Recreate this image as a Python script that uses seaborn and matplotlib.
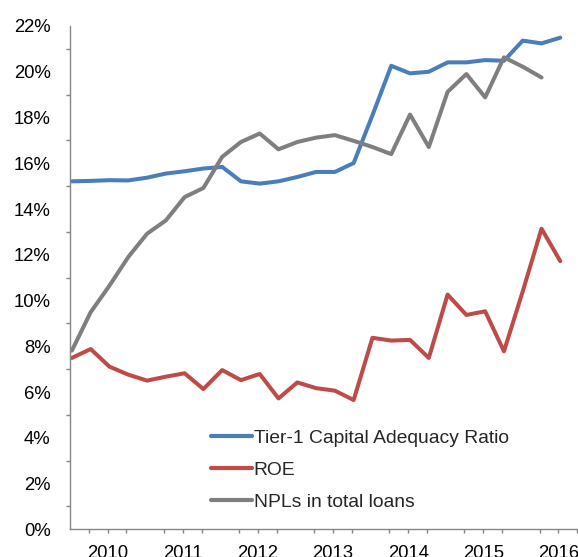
import numpy as np
import pandas as pd
import seaborn as sns
import matplotlib.pyplot as plt
from matplotlib.ticker import MultipleLocator, FixedLocator, FuncFormatter

# quarterly data, 2010Q1 onwards (values in %)
tier1 = [15.21, 15.23, 15.26, 15.25, 15.37, 15.55, 15.65, 15.77, 15.84,
         15.21, 15.11, 15.21, 15.40, 15.62, 15.62, 16.01, 18.10, 20.26,
         19.93, 20.00, 20.41, 20.41, 20.51, 20.48, 21.36, 21.24, 21.49]
roe = [7.49, 7.88, 7.11, 6.76, 6.50, 6.67, 6.82, 6.13, 6.96, 6.52, 6.79,
       5.72, 6.42, 6.17, 6.06, 5.65, 8.37, 8.25, 8.28, 7.49, 10.26, 9.37,
       9.53, 7.78, 10.40, 13.14, 11.72]
npl = [7.81, 9.49, 10.65, 11.90, 12.92, 13.50, 14.52, 14.92, 16.28, 16.93,
       17.30, 16.61, 16.93, 17.12, 17.23, 16.98, 16.71, 16.40, 18.13, 16.71,
       19.12, 19.90, 18.88, 20.63, 20.22, 19.75]
years = [2010, 2011, 2012, 2013, 2014, 2015, 2016]
names = ['Tier-1 Capital Adequacy Ratio', 'ROE', 'NPLs in total loans']
colors = ['#4A7EBB', '#BE4B48', '#7F7F7F']

df = pd.concat([
    pd.DataFrame({'q': np.arange(len(tier1)), 'value': tier1, 'series': names[0]}),
    pd.DataFrame({'q': np.arange(len(roe)), 'value': roe, 'series': names[1]}),
    pd.DataFrame({'q': np.arange(len(npl)), 'value': npl, 'series': names[2]}),
])

sns.set_style('white')
plt.rcParams['font.family'] = ['Liberation Sans', 'DejaVu Sans']

W, H = 578, 557
fig = plt.figure(figsize=(W / 100, H / 100), dpi=100)
ax = fig.add_axes([70 / W, 1 - 529.3 / H, (596 - 70) / W, (529.3 - 26) / H])

sns.lineplot(data=df, x='q', y='value', hue='series', hue_order=names,
             palette=colors, linewidth=2.9, ax=ax)

ax.set_ylim(0, 22)
ax.set_xlim(-0.1, 27.9)
ax.yaxis.set_major_locator(MultipleLocator(2))
ax.yaxis.set_minor_locator(MultipleLocator(1))
ax.yaxis.set_major_formatter(FuncFormatter(lambda v, p: f'{v:.0f}%'))

ax.xaxis.set_major_locator(FixedLocator([i - 0.1 for i in range(0, 29, 4)]))
ax.xaxis.set_major_formatter(FuncFormatter(lambda v, p: ''))
ax.xaxis.set_minor_locator(FixedLocator([i - 0.1 for i in range(29) if i % 4 != 0]))
ax.xaxis.set_minor_formatter(FuncFormatter(
    lambda v, p: str(years[round(v) // 4]) if round(v) % 4 == 2 and round(v) // 4 < len(years) else ''))

axcol = '#868686'
ax.tick_params(axis='y', which='major', direction='out', length=5, width=1,
               color=axcol, labelsize=13.3, pad=9, labelcolor='black')
ax.tick_params(axis='y', which='minor', direction='out', length=3, width=1, color=axcol, left=True)
ax.tick_params(axis='x', which='major', direction='inout', length=10, width=1, color=axcol)
ax.tick_params(axis='x', which='minor', direction='out', length=3, width=1,
               color=axcol, labelsize=13.3, pad=8, labelcolor='black', bottom=True)

for s in ['top', 'right']:
    ax.spines[s].set_visible(False)
for s in ['left', 'bottom']:
    ax.spines[s].set_color(axcol)
    ax.spines[s].set_linewidth(1)

ax.set_xlabel('')
ax.set_ylabel('')

ax.legend(loc='center left', bbox_to_anchor=(211 / W, 1 - 470 / H),
          bbox_transform=fig.transFigure, frameon=False, fontsize=13.9,
          handlelength=2.1, handletextpad=0.12, labelspacing=0.75,
          borderpad=0, borderaxespad=0)
for line in ax.get_legend().get_lines():
    line.set_linewidth(3)

fig.savefig('out.png', dpi=100)
